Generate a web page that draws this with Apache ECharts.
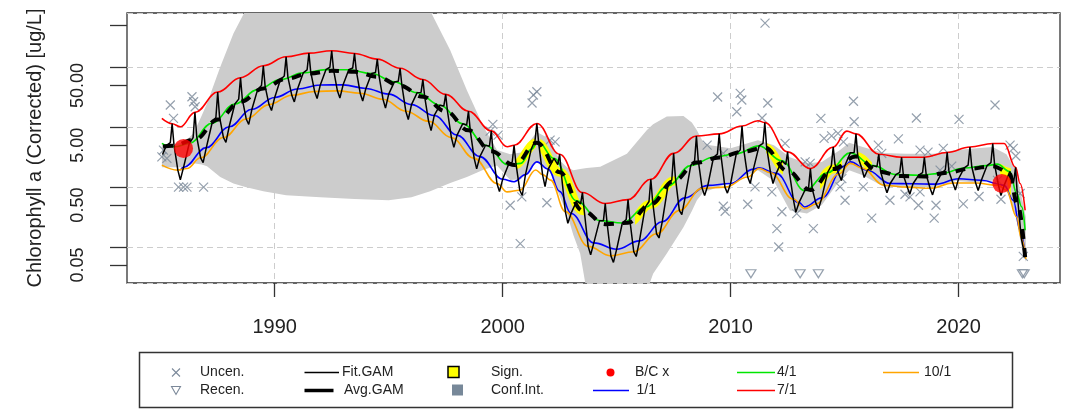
<!DOCTYPE html>
<html><head><meta charset="utf-8">
<script src="https://cdn.jsdelivr.net/npm/echarts@6/dist/echarts.min.js"></script>
<style>html,body{margin:0;padding:0;background:#fff}#c{width:1066px;height:409px}</style>
</head><body><div id="c"></div><script>
// ---------- axis ----------
const xTicks = [1990, 2000, 2010, 2020];
const xRange = [1983.52, 2024.45];
const yRange = [0.02492, 816];
const yTickValues = [0.05, 0.1, 0.5, 1, 5, 10, 50, 100, 500];
const yLabelValues = [0.05, 0.5, 5, 50];
const yTitle = 'Chlorophyll a (Corrected) [ug/L]';

// ---------- observations ----------
const uncen = [[1985.42,23.6],[1986.37,32.5],[1986.44,26.8],[1986.51,22.1],[1985.56,14.1],[1985.12,4.15],[1985.05,3.21],[1985.27,3.02],[1985.78,1.0],[1986.0,1.0],[1986.15,1.0],[1986.88,1.0],
[1999.57,11.2],[1999.45,8.65],[1999.80,7.41],[2001.35,34.7],[2001.50,39.4],[2001.29,25.5],[2000.33,0.497],[2000.84,0.685],[2001.94,0.548],[2000.77,0.1135],[2002.08,6.11],[2002.30,5.72],
[2008.97,5.04],[2009.43,32.1],[2010.42,37.0],[2010.49,28.6],[2010.27,18.2],[2009.68,3.66],[2009.68,0.479],[2009.76,0.395],[2010.75,0.517],[2011.51,552],[2011.63,25.5],[2011.38,14.3],[2012.39,5.38],[2011.07,1.01],[2011.81,0.831],[2012.25,0.387],[2012.03,0.202],[2012.11,0.0995],[2013.63,0.202],[2012.90,0.361],[2013.27,2.64],[2013.49,2.49],[2013.96,14.1],[2014.10,6.52],[2014.43,7.18],[2014.71,7.91],[2014.95,5.72],[2015.39,27.3],[2015.42,12.4],[2015.02,0.603],[2014.80,1.01],[2014.88,1.39],[2015.82,1.01],[2016.19,0.303],[2016.48,5.04],[2016.63,3.66],[2016.99,0.603],[2017.36,6.40],[2017.65,0.760],[2017.87,0.685],[2018.15,14.3],[2018.24,0.497],[2018.31,4.15],[2018.66,3.85],[2019.33,4.44],[2018.93,0.303],[2019.01,0.497],[2019.19,1.92],[2019.70,2.24],[2020.02,13.6],[2020.21,0.525],[2020.90,0.696],[2021.60,23.6],[2021.86,0.627],[2022.26,5.04],[2022.40,4.44],[2022.51,3.32],[2022.70,0.781],[2022.84,0.0695],[2021.71,1.30],[2018.31,0.831]];
const recen = [[2010.89,0.0356],[2013.05,0.0356],[2013.85,0.0356],[2022.80,0.0356],[2022.88,0.0356]];
const bcPoints = [[1986.0,4.43],[2021.9,1.15]];

// ---------- seasonal-day GAM curves ----------
const jan1 = [[1985.86,1.92],[1986,2.14],[1987,4.57],[1988,10.2],[1989,20.0],[1990,31.6],[1991,43.7],[1992,51.1],[1993,51.3],[1994,44.7],[1995,35.9],[1996,24.0],[1997,15.8],[1998,7.41],[1999,3.24],[2000,1.35],[2000.5,1.23],[2001,1.62],[2001.5,2.64],[2002,2.00],[2002.5,0.85],[2003,0.363],[2004,0.117],[2005,0.0912],[2006,0.126],[2007,0.263],[2008,0.661],[2009,1.07],[2010,1.15],[2011,2.00],[2011.25,2.10],[2012,1.70],[2013,0.550],[2013.25,0.465],[2014,0.661],[2015,2.24],[2015.25,2.64],[2016,1.91],[2017,1.15],[2018,1.14],[2019,1.12],[2020,1.38],[2021,1.30],[2022,1.07],[2022.4,0.603],[2022.7,0.190],[2022.92,0.0723]];
const apr1 = [[1985.05,5.38],[1985.25,5.01],[1985.6,4.72],[1986.25,5.37],[1987.25,11.7],[1988.25,24.5],[1989.25,42.7],[1990.25,63.1],[1991.25,81.3],[1992.25,92.3],[1993.25,91.6],[1994.25,79.4],[1995.25,57.5],[1996.25,38.0],[1997.25,23.4],[1998.25,11.5],[1999.25,5.01],[2000.25,2.34],[2000.8,2.49],[2001.25,4.27],[2001.55,5.75],[2002.25,3.02],[2003.25,0.589],[2004.25,0.275],[2005.25,0.251],[2006.25,0.457],[2007.25,1.05],[2008.25,2.29],[2009.25,3.16],[2010.25,3.63],[2011.25,4.90],[2012.25,2.75],[2013.25,0.871],[2014.25,1.74],[2015.25,3.74],[2016.25,2.29],[2017.25,1.62],[2018.25,1.58],[2019.25,1.70],[2020.25,2.09],[2021.25,2.29],[2021.7,2.42],[2022.25,1.82],[2022.55,0.782],[2022.77,0.468],[2022.92,0.190]];
const jul1 = [[1985.05,14.1],[1985.5,11.5],[1985.86,10.2],[1986.5,17.8],[1987.5,38.9],[1988.5,67.6],[1989.5,107],[1990.5,151],[1991.5,174],[1992.5,191],[1993.5,172],[1994.5,138],[1995.5,97.3],[1996.5,63.1],[1997.5,35.5],[1998.5,18.6],[1999.5,8.71],[2000.2,4.72],[2000.5,5.01],[2001.5,11.6],[2002.5,3.55],[2003.5,0.813],[2004.5,0.531],[2005.5,0.617],[2006.5,1.35],[2007.5,3.67],[2008.5,7.16],[2009.5,7.76],[2010.5,10.5],[2011.2,12.9],[2011.5,12.0],[2012.5,3.89],[2013.5,2.04],[2014.5,4.68],[2015.1,8.65],[2015.5,7.76],[2016.5,3.55],[2017.5,3.16],[2018.5,3.16],[2019.5,3.80],[2020.5,4.68],[2021.5,5.37],[2022.0,5.37],[2022.5,2.14],[2022.7,1.15],[2022.92,0.41]];
const oct1 = [[1985.05,2.33],[1985.75,1.92],[1986.15,2.05],[1986.75,3.09],[1987.75,6.76],[1988.75,13.8],[1989.75,24.0],[1990.75,34.3],[1991.75,39.8],[1992.75,40.7],[1993.75,37.2],[1994.75,29.5],[1995.75,18.6],[1996.75,12.6],[1997.75,6.76],[1998.75,3.02],[1999.75,1.15],[2000.2,0.832],[2000.75,0.887],[2001.45,1.93],[2001.75,1.62],[2002.1,1.31],[2002.75,0.389],[2003.75,0.102],[2004.75,0.0708],[2005.75,0.0832],[2006.75,0.166],[2007.75,0.407],[2008.75,0.955],[2009.75,1.00],[2010.75,1.48],[2011.25,2.05],[2011.75,1.74],[2012.75,0.631],[2013.25,0.437],[2013.75,0.525],[2014.75,1.66],[2015.25,2.49],[2015.75,2.09],[2016.75,1.07],[2017.75,1.00],[2018.75,0.955],[2019.75,1.17],[2020.75,1.17],[2021.75,1.07],[2022.1,0.887],[2022.55,0.317],[2022.75,0.141],[2022.95,0.0631]];

// ---------- Fit.GAM (daily fit, read at Jan/Apr/Jun/Jul/Aug/Oct and the autumn low) ----------
const fitYears = [1985,1986,1987,1988,1989,1990,1991,1992,1993,1994,1995,1996,1997,1998,1999,2000,2001,2002,2003,2004,2005,2006,2007,2008,2009,2010,2011,2012,2013,2014,2015,2016,2017,2018,2019,2020,2021,2022];
const fitPhase = [0, 0.25, 0.42, 0.5, 0.58, 0.75, 0.86];
const fitJan = [null,2.14,4.57,10.2,20.0,31.6,43.7,51.1,51.3,44.7,35.9,24.0,15.8,7.41,3.24,1.35,1.62,2.00,0.363,0.117,0.0912,0.126,0.263,0.661,1.07,1.15,2.00,1.70,0.550,0.661,2.24,1.91,1.15,1.14,1.12,1.38,1.30,1.07];
const fitApr = [5.01,5.37,11.7,24.5,42.7,63.1,81.3,92.3,91.6,79.4,57.5,38.0,23.4,11.5,5.01,2.34,4.27,3.02,0.589,0.275,0.251,0.457,1.05,2.29,3.16,3.63,4.90,2.75,0.871,1.74,3.74,2.29,1.62,1.58,1.70,2.09,2.29,1.82];
const fitJun = [5.56,6.73,14.6,29.6,50.0,72.3,91.0,101,98.0,82.4,58.7,38.4,22.8,10.9,4.83,2.63,6.03,2.37,0.525,0.275,0.288,0.575,1.32,2.75,3.55,4.17,5.37,2.40,0.977,2.29,3.80,2.19,1.76,1.74,1.95,2.34,2.57,1.23];
const fitJul = [11.5,17.8,38.9,67.6,107,151,174,191,172,138,97.3,63.1,35.5,18.6,8.71,5.01,11.6,3.55,0.813,0.531,0.617,1.35,3.67,7.16,7.76,10.5,12.0,3.89,2.04,4.68,7.76,3.55,3.16,3.16,3.80,4.68,5.37,2.14];
const fitAug = [5.13,6.95,15.0,29.4,48.5,68.5,84.7,92.0,87.5,71.4,50.1,32.4,18.5,8.73,3.90,2.51,5.50,1.58,0.398,0.251,0.282,0.575,1.41,2.82,3.31,4.17,4.68,1.74,0.933,2.40,3.24,1.82,1.58,1.62,1.82,2.19,2.40,0.72];
const fitOct = [1.92,3.09,6.76,13.8,24.0,34.3,39.8,40.7,37.2,29.5,18.6,12.6,6.76,3.02,1.15,0.887,1.62,0.389,0.102,0.0708,0.0832,0.166,0.407,0.955,1.00,1.48,1.74,0.631,0.525,1.66,2.09,1.07,1.00,0.955,1.17,1.17,1.07,0.141];
const fitLow = [1.32,2.57,5.62,11.2,19.1,26.6,30.2,30.9,27.5,20.9,13.5,8.81,4.62,2.02,0.841,0.724,1.02,0.248,0.0741,0.0550,0.0692,0.141,0.347,0.724,0.794,1.15,1.15,0.38,0.437,1.29,1.45,0.805,0.759,0.741,0.891,0.881,0.724,null];
const fitStart = [1985.08, 3.5];
const fitEnd = [2022.92, 0.0676];

// ---------- Avg.GAM ----------
const avgGAM = [[1985.1,4.79],[1985.5,4.90],[1986.5,6.24],[1987.5,13.5],[1988.5,26.9],[1989.5,44.7],[1990.5,64.6],[1991.5,79.4],[1992.5,88.1],[1993.5,85.1],[1994.5,70.0],[1995.5,49.5],[1996.5,32.4],[1997.5,18.6],[1998.5,8.91],[1999.5,3.98],[2000.5,2.34],[2001.5,5.50],[2002.5,1.78],[2003.5,0.407],[2004.5,0.240],[2005.5,0.254],[2006.5,0.519],[2007.5,1.26],[2008.5,2.57],[2009.5,3.13],[2010.5,3.89],[2011.5,4.57],[2012.5,1.86],[2013.5,0.891],[2014.5,2.00],[2015.5,3.24],[2016.5,1.82],[2017.5,1.53],[2018.5,1.51],[2019.5,1.74],[2020.5,2.04],[2021.5,2.24],[2022.2,1.78],[2022.6,0.50],[2022.92,0.0676]];
const signPeriods = [[2000.6,2001.45],[2001.65,2003.6],[2005.8,2007.6],[2011.55,2012.3],[2013.9,2014.9],[2015.6,2016.2],[2021.8,2022.3]];

// ---------- confidence band: [year, lower, upper] ----------
const confBand = [[1985.05,2.14,5.01],[1986.0,2.14,5.50],[1986.44,2.51,7.94],[1986.8,2.40,15.8],[1987.03,2.24,25.1],[1987.61,1.48,102],[1988.19,1.15,372],[1988.71,1.00,891],[1989.5,0.851,2512],[1990.5,0.731,3981],[1992.0,0.676,5012],[1993.5,0.631,5012],[1995.0,0.603,3162],[1996.0,0.676,1585],[1996.82,0.851,891],[1997.7,1.17,195],[1998.43,1.48,41.7],[1999.16,1.95,10.2],[1999.75,2.29,4.17],[2000.33,1.32,3.55],[2000.8,1.35,3.80],[2001.5,2.63,8.32],[2002.08,1.78,6.31],[2002.5,0.708,2.82],[2002.82,0.363,2.14],[2003.1,0.158,1.91],[2003.4,0.0776,2.00],[2003.69,0.0178,2.09],[2004.28,0.0126,2.19],[2005.45,0.0126,3.63],[2006.32,0.0178,8.91],[2006.6,0.0355,11.2],[2007.2,0.0776,15.1],[2007.93,0.214,15.5],[2008.3,0.398,12.0],[2008.52,0.603,8.91],[2008.81,0.832,5.50],[2009.1,0.891,5.01],[2010.0,1.20,4.47],[2011.2,1.91,6.10],[2011.9,1.26,5.01],[2012.6,0.407,3.16],[2013.35,0.363,2.51],[2014.0,0.501,2.63],[2014.8,1.32,4.17],[2015.2,1.91,5.50],[2015.8,1.58,4.68],[2016.7,1.02,3.72],[2017.7,1.00,3.63],[2018.9,1.00,3.63],[2019.9,1.26,4.17],[2020.8,1.20,4.47],[2021.5,1.29,4.68],[2022.1,0.891,3.55],[2022.5,0.339,1.91],[2022.8,0.0871,0.603],[2022.95,0.0562,0.316]];

// ---------- build Fit.GAM series ----------
const fitData = [fitStart];
fitYears.forEach((y, i) => {
  [fitJan[i], fitApr[i], fitJun[i], fitJul[i], fitAug[i], fitOct[i], fitLow[i]].forEach((v, k) => {
    if (v != null) fitData.push([y + fitPhase[k], v]);
  });
});
fitData.push(fitEnd);

const FONT = 'Liberation Sans, Arial, sans-serif';
const gridLine = {show: true, lineStyle: {color: '#cdcdcd', type: [6, 4], width: 1}};
const tickStyle = {color: '#333', width: 1.3};
const ptColor = '#7b8899';
const GREEN = '#00e600';
const crossPath = 'path://M0,0L10,10M10,0L0,10';
const triPath = 'path://M0,0L10,0L5,8.66Z';

const chart = echarts.init(document.getElementById('c'), null, {renderer: 'canvas'});
const option = {
  animation: false,
  textStyle: {fontFamily: FONT},
  grid: {left: 127, right: 6, top: 13, bottom: 126, show: true, borderColor: '#333', borderWidth: 1.3, backgroundColor: 'transparent'},
  xAxis: {
    type: 'value', min: xRange[0], max: xRange[1], position: 'bottom',
    axisLine: {show: false, onZero: false},
    axisTick: {show: true, customValues: xTicks, length: 14, lineStyle: tickStyle},
    axisLabel: {customValues: xTicks, fontSize: 20, color: '#222', margin: 34, formatter: v => String(Math.round(v))},
    splitLine: gridLine
  },
  yAxis: [
    {
      type: 'log', logBase: 10, min: yRange[0], max: yRange[1],
      axisLine: {show: false, onZero: false}, axisTick: {show: false}, axisLabel: {show: false},
      splitLine: gridLine,
      name: yTitle, nameLocation: 'middle', nameGap: 82,
      nameTextStyle: {fontSize: 20, color: '#222', fontFamily: FONT}
    },
    {
      // same scale expressed in log10 units, used only for tick marks and labels
      type: 'value', min: Math.log10(yRange[0]), max: Math.log10(yRange[1]),
      position: 'left',
      axisLine: {show: false, onZero: false},
      axisTick: {show: true, length: 17, customValues: yTickValues.map(Math.log10), lineStyle: tickStyle},
      axisLabel: {rotate: 90, fontSize: 18, color: '#222', margin: 40, customValues: yLabelValues.map(Math.log10),
        formatter: v => Math.pow(10, v).toFixed(2)},
      splitLine: {show: false}
    }
  ],
  visualMap: [{
    type: 'piecewise', show: false, dimension: 0, seriesIndex: 2,
    pieces: signPeriods.map(p => ({gte: p[0], lte: p[1], color: '#ffff00'})),
    outOfRange: {color: 'rgba(255,255,0,0)'}
  }],
  series: [
    {
      name: 'Conf.Int.', type: 'custom', clip: true, silent: true, z: 1,
      data: [[confBand[0][0], confBand[0][1]]],
      renderItem: (params, api) => {
        const up = confBand.map(d => api.coord([d[0], d[2]]));
        const lo = confBand.map(d => api.coord([d[0], d[1]])).reverse();
        const cs = params.coordSys;
        return {
          type: 'group',
          clipPath: {type: 'rect', shape: {x: cs.x, y: cs.y, width: cs.width, height: cs.height}},
          children: [{type: 'polygon', shape: {points: up.concat(lo)}, style: {fill: '#cccccc'}}]
        };
      }
    },
    {
      name: 'Uncen.', type: 'scatter', data: uncen, symbol: crossPath, symbolSize: 9, z: 3,
      itemStyle: {color: 'rgba(0,0,0,0)', borderColor: ptColor, borderWidth: 1.2}
    },
    {
      name: 'Sign.', type: 'line', data: avgGAM, smooth: 0.4, smoothMonotone: 'x', showSymbol: false, z: 4,
      lineStyle: {width: 9, cap: 'butt'}
    },
    {name: '1/1', type: 'line', data: jan1, smooth: 0.4, smoothMonotone: 'x', showSymbol: false, z: 5, lineStyle: {color: '#0000ff', width: 1.6}, itemStyle: {color: '#0000ff'}},
    {name: '4/1', type: 'line', data: apr1, smooth: 0.4, smoothMonotone: 'x', showSymbol: false, z: 5, lineStyle: {color: GREEN, width: 1.6}, itemStyle: {color: GREEN}},
    {name: '7/1', type: 'line', data: jul1, smooth: 0.4, smoothMonotone: 'x', showSymbol: false, z: 5, lineStyle: {color: '#ff0000', width: 1.6}, itemStyle: {color: '#ff0000'}},
    {name: '10/1', type: 'line', data: oct1, smooth: 0.4, smoothMonotone: 'x', showSymbol: false, z: 5, lineStyle: {color: '#ffa500', width: 1.6}, itemStyle: {color: '#ffa500'}},
    {name: 'Fit.GAM', type: 'line', data: fitData, showSymbol: false, z: 6, lineStyle: {color: '#000', width: 1.5}, itemStyle: {color: '#000'}},
    {name: 'Avg.GAM', type: 'line', data: avgGAM, smooth: 0.4, smoothMonotone: 'x', showSymbol: false, z: 7, lineStyle: {color: '#000', width: 4, type: [10, 9]}, itemStyle: {color: '#000'}},
    {
      name: 'Recen.', type: 'scatter', data: recen, symbol: triPath, symbolSize: [10, 8], z: 8,
      itemStyle: {color: 'rgba(0,0,0,0)', borderColor: ptColor, borderWidth: 1.2}
    },
    {name: 'B/C x', type: 'scatter', data: bcPoints, symbol: 'circle', symbolSize: 19, z: 9, itemStyle: {color: '#ff0000'}}
  ],
  graphic: (function () {
    const r1 = 372.5, r2 = 390.5, fs = 14, tc = '#222';
    const t = (x, y, s) => ({type: 'text', x: x, y: y, style: {text: s, fontSize: fs, fill: tc, fontFamily: FONT, verticalAlign: 'middle', align: 'left'}});
    const ln = (x1, x2, y, c, w) => ({type: 'line', shape: {x1: x1, y1: y, x2: x2, y2: y}, style: {stroke: c, lineWidth: w}});
    return [
      {type: 'rect', shape: {x: 139.5, y: 352.5, width: 873, height: 55}, style: {fill: 'none', stroke: '#333', lineWidth: 1.5}},
      {type: 'line', shape: {x1: 172, y1: r1 - 4, x2: 180, y2: r1 + 4}, style: {stroke: ptColor, lineWidth: 1.1}},
      {type: 'line', shape: {x1: 180, y1: r1 - 4, x2: 172, y2: r1 + 4}, style: {stroke: ptColor, lineWidth: 1.1}},
      t(200, r1, 'Uncen.'),
      {type: 'polygon', shape: {points: [[171.5, r2 - 4], [180.5, r2 - 4], [176, r2 + 4]]}, style: {fill: 'none', stroke: ptColor, lineWidth: 1.1}},
      t(200, r2, 'Recen.'),
      ln(304.5, 339, r1, '#000', 1.5), t(342, r1, 'Fit.GAM'),
      ln(304.5, 333.5, r2, '#000', 3.5), t(344, r2, 'Avg.GAM'),
      {type: 'rect', shape: {x: 448, y: r1 - 6, width: 11, height: 11}, style: {fill: '#ffff00', stroke: '#000', lineWidth: 1.5}},
      t(491, r1, 'Sign.'),
      {type: 'rect', shape: {x: 452, y: r2 - 6, width: 11, height: 11}, style: {fill: '#778899'}},
      t(491, r2, 'Conf.Int.'),
      {type: 'circle', shape: {cx: 610.5, cy: r1, r: 4}, style: {fill: '#ff0000'}},
      t(635, r1, 'B/C x'),
      ln(593, 629, r2, '#0000ff', 1.6), t(636.5, r2, '1/1'),
      ln(737, 775, r1, GREEN, 1.6), t(777, r1, '4/1'),
      ln(737, 775, r2, '#ff0000', 1.6), t(777, r2, '7/1'),
      ln(883, 919, r1, '#ffa500', 1.6), t(924, r1, '10/1')
    ];
  })()
};
chart.setOption(option);
</script></body></html>
